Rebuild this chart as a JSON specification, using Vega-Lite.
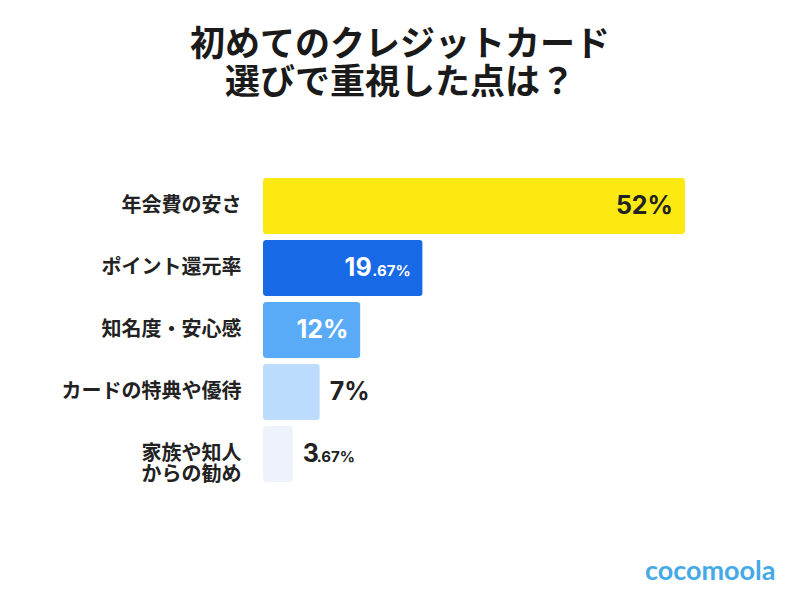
{
  "$schema": "https://vega.github.io/schema/vega-lite/v6.json",
  "width": 422,
  "height": 310,
  "autosize": {"type": "none"},
  "padding": {"left": 263, "top": 175, "right": 115, "bottom": 115},
  "background": "#ffffff",
  "config": {"view": {"stroke": null}},
  "title": {
    "text": ["初めてのクレジットカード", "選びで重視した点は？"],
    "font": "Noto Sans CJK JP",
    "fontSize": 35,
    "fontWeight": "bold",
    "lineHeight": 38,
    "color": "#1a1a1a",
    "anchor": "middle",
    "frame": "group",
    "dx": -74,
    "offset": 74
  },
  "data": {
    "values": [
      {"item": "年会費の安さ", "value": 52, "whole": "52%", "frac": ""},
      {"item": "ポイント還元率", "value": 19.67, "whole": "19", "frac": ".67%"},
      {"item": "知名度・安心感", "value": 12, "whole": "12%", "frac": ""},
      {"item": "カードの特典や優待", "value": 7, "whole": "7%", "frac": ""},
      {"item": "家族や知人\nからの勧め", "value": 3.67, "whole": "3", "frac": ".67%"}
    ]
  },
  "encoding": {
    "y": {
      "field": "item",
      "type": "nominal",
      "sort": null,
      "scale": {"paddingInner": 0.1, "paddingOuter": 0.05},
      "axis": {
        "title": null,
        "domain": false,
        "ticks": false,
        "labelPadding": 22,
        "labelFont": "Noto Sans CJK JP",
        "labelFontSize": 20,
        "labelFontWeight": "bold",
        "labelColor": "#222222",
        "labelLimit": 300,
        "labelLineHeight": 21,
        "labelExpr": "split(datum.label, '\\n')"
      }
    },
    "x": {
      "field": "value",
      "type": "quantitative",
      "scale": {"domain": [0, 52], "nice": false},
      "axis": {
        "domain": false,
        "ticks": false,
        "labels": false,
        "grid": false,
        "title": "cocomoola",
        "titleFont": "Lato",
        "titleFontSize": 27,
        "titleFontWeight": "bold",
        "titleColor": "#45a9e6",
        "titleAlign": "right",
        "titleBaseline": "middle",
        "titleX": 512,
        "titleY": 86
      }
    }
  },
  "layer": [
    {
      "mark": {"type": "bar", "cornerRadius": 3},
      "encoding": {
        "color": {
          "field": "item",
          "type": "nominal",
          "legend": null,
          "scale": {
            "domain": ["年会費の安さ", "ポイント還元率", "知名度・安心感", "カードの特典や優待", "家族や知人\nからの勧め"],
            "range": ["#fde912", "#1769e6", "#5aabf7", "#bcdcfd", "#eef2fb"]
          }
        }
      }
    },
    {
      "transform": [{"filter": "datum.value > 10 && datum.frac == ''"}],
      "mark": {"type": "text", "align": "right", "baseline": "middle", "dx": -12, "font": "Inter", "fontSize": 25, "fontWeight": "bold"},
      "encoding": {
        "text": {"field": "whole"},
        "color": {"condition": {"test": "datum.value < 50", "value": "#ffffff"}, "value": "#222222"}
      }
    },
    {
      "transform": [{"filter": "datum.value > 10 && datum.frac != ''"}],
      "mark": {"type": "text", "align": "right", "baseline": "middle", "dx": -51, "font": "Inter", "fontSize": 25, "fontWeight": "bold", "color": "#ffffff"},
      "encoding": {"text": {"field": "whole"}}
    },
    {
      "transform": [{"filter": "datum.value > 10 && datum.frac != ''"}],
      "mark": {"type": "text", "align": "right", "baseline": "middle", "dx": -12, "dy": 3, "font": "Inter", "fontSize": 15, "fontWeight": "bold", "color": "#ffffff"},
      "encoding": {"text": {"field": "frac"}}
    },
    {
      "transform": [{"filter": "datum.value < 10"}],
      "mark": {"type": "text", "align": "left", "baseline": "middle", "dx": 10, "font": "Inter", "fontSize": 25, "fontWeight": "bold", "color": "#222222"},
      "encoding": {"text": {"field": "whole"}}
    },
    {
      "transform": [{"filter": "datum.value < 10 && datum.frac != ''"}],
      "mark": {"type": "text", "align": "left", "baseline": "middle", "dx": 24, "dy": 3, "font": "Inter", "fontSize": 15, "fontWeight": "bold", "color": "#222222"},
      "encoding": {"text": {"field": "frac"}}
    }
  ]
}
